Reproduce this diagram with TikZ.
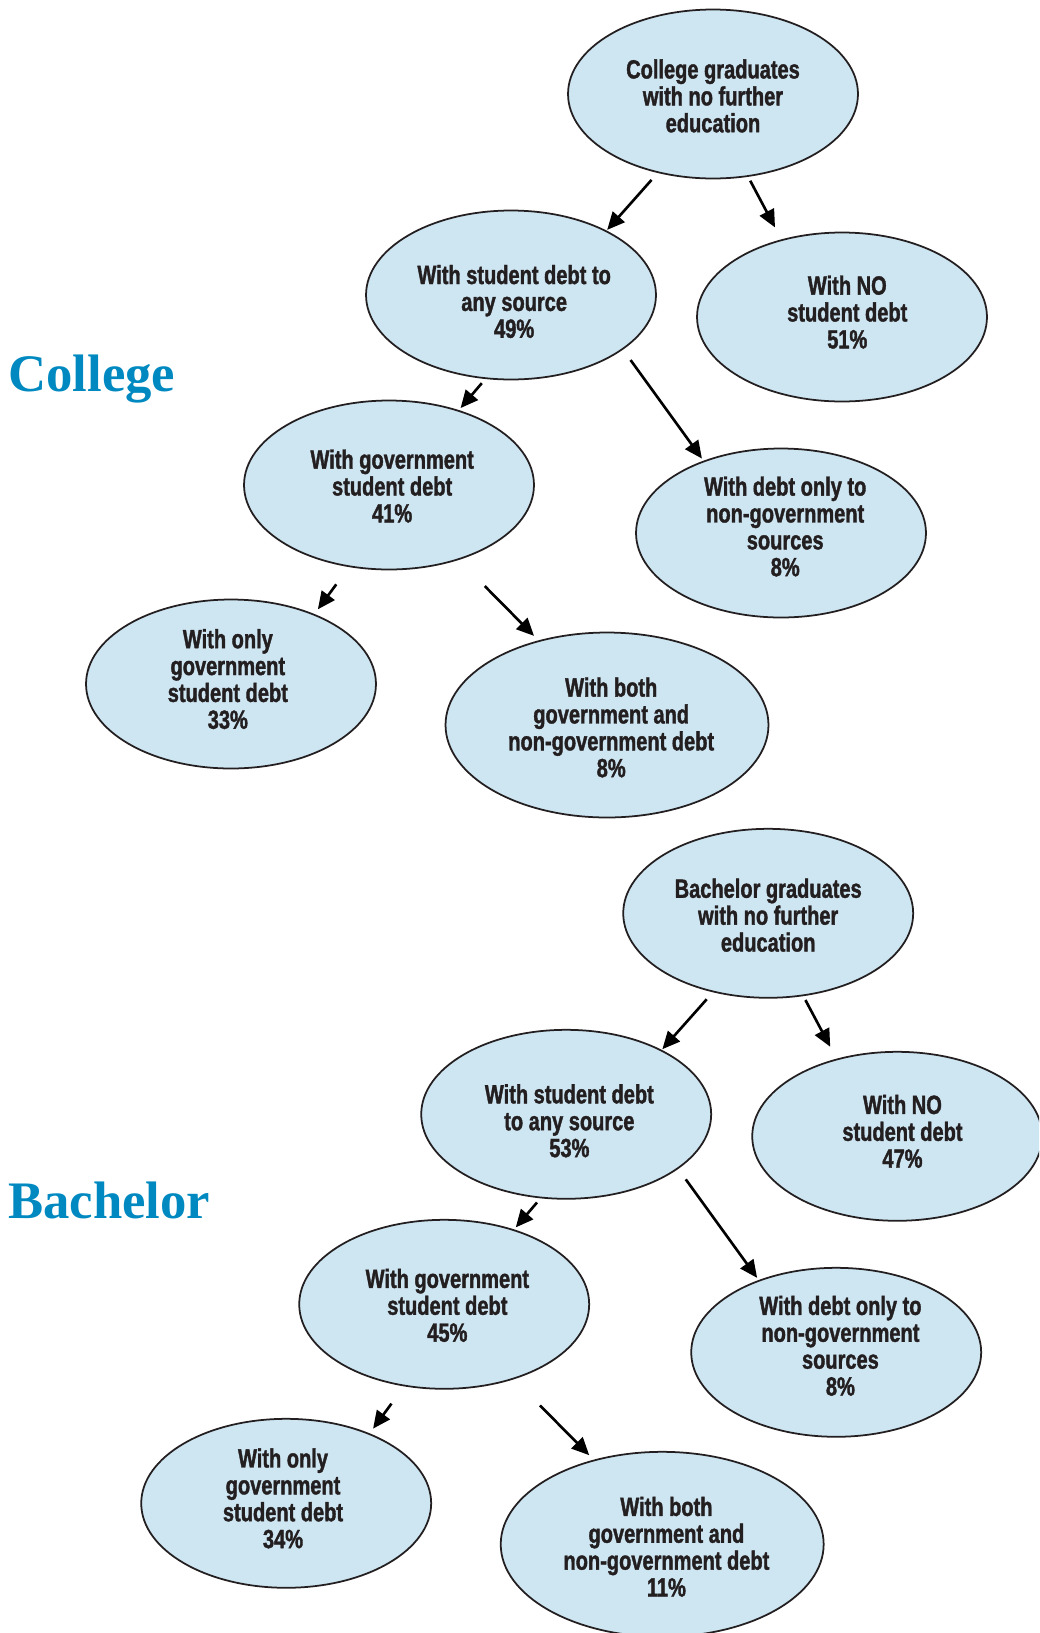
\documentclass[tikz,border=0pt]{standalone}
\usepackage{fontspec}
\setmainfont{Liberation Sans}[FakeStretch=0.76, BoldFeatures={FakeBold=1.4}]
\newfontfamily\headfont{Liberation Serif}
\usetikzlibrary{shapes.geometric,arrows.meta}
\definecolor{bubblefill}{RGB}{206,229,242}
\definecolor{ink}{RGB}{35,31,32}
\definecolor{headblue}{RGB}{0,137,192}

\begin{document}
\begin{tikzpicture}[x=0.02cm,y=-0.02cm,
  bubble/.style={ellipse, draw=ink, line width=1pt, fill=bubblefill,
    minimum width=5.8cm, minimum height=3.38cm, inner sep=0pt},
  widebubble/.style={bubble, minimum width=6.46cm, minimum height=3.7cm},
  label text/.style={inner sep=0pt, align=center, text=ink,
    font=\fontsize{15}{15.3}\selectfont\bfseries},
  arr/.style={line width=1.5pt, draw=black, -{Triangle[length=10pt,width=9pt]}},
  heading/.style={anchor=base west, inner sep=0pt, text=headblue,
    font=\headfont\fontsize{30}{30}\selectfont\bfseries}]

\useasboundingbox (0,0) rectangle (1039,1633);
\clip (0,0) rectangle (1039,1633);

% ---------- College tree ----------
\node[heading] (c-title) at (8,391) {College};
\node[bubble] (c-top) at (713,94) {};
\node[bubble] (c-any) at (511,295) {};
\node[bubble] (c-none) at (842,317) {};
\node[bubble] (c-gov) at (389,485) {};
\node[bubble] (c-nongov) at (781,533) {};
\node[bubble] (c-onlygov) at (231,684) {};
\node[widebubble] (c-both) at (607,725) {};

\node[label text] (c-top-t) at ([yshift=-1.1pt]c-top.center) {College graduates\\with no further\\education};
\node[label text] (c-any-t) at ([xshift=1.8pt,yshift=-3.7pt]c-any.center) {With student debt to\\any source\\49\%};
\node[label text] (c-none-t) at ([xshift=3pt,yshift=2.8pt]c-none.center) {With NO\\student debt\\51\%};
\node[label text] (c-gov-t) at ([xshift=1.8pt,yshift=-0.6pt]c-gov.center) {With government\\student debt\\41\%};
\node[label text] (c-nongov-t) at ([xshift=2.4pt,yshift=3.7pt]c-nongov.center) {With debt only to\\non-government\\sources\\8\%};
\node[label text] (c-onlygov-t) at ([xshift=-1.8pt,yshift=2.8pt]c-onlygov.center) {With only\\government\\student debt\\33\%};
\node[label text] (c-both-t) at ([xshift=2.4pt,yshift=-1.4pt]c-both.center) {With both\\government and\\non-government debt\\8\%};

\draw[arr, shorten <=5.3pt, shorten >=0.5pt] (c-top.235.5) -- (c-any.34.4);
\draw[arr, shorten <=2.5pt, shorten >=7.7pt] (c-top.293) -- (c-none.128);
\draw[arr, shorten <=3.1pt, shorten >=1.5pt] (c-any.253.6) -- (c-gov.47.8);
\draw[arr, shorten <=7.3pt, shorten >=1.5pt] (c-any.334) -- (c-nongov.137.2);
\draw[arr, shorten <=12.2pt, shorten >=3.3pt] (c-gov.244.6) -- (c-onlygov.40.9);
\draw[arr, shorten <=21pt, shorten >=3.6pt] (c-gov.313.5) -- (c-both.129.9);

% ---------- Bachelor tree ----------
\node[heading] (b-title) at (8,1218) {Bachelor};
\begin{scope}[shift={(55.2,819.3)}]
\node[bubble] (b-top) at (713,94) {};
\node[bubble] (b-any) at (511,295) {};
\node[bubble] (b-none) at (842,317) {};
\node[bubble] (b-gov) at (389,485) {};
\node[bubble] (b-nongov) at (781,533) {};
\node[bubble] (b-onlygov) at (231,684) {};
\node[widebubble] (b-both) at (607,725) {};
\end{scope}

\node[label text] (b-top-t) at ([yshift=-1.1pt]b-top.center) {Bachelor graduates\\with no further\\education};
\node[label text] (b-any-t) at ([xshift=1.8pt,yshift=-3.7pt]b-any.center) {With student debt\\to any source\\53\%};
\node[label text] (b-none-t) at ([xshift=3pt,yshift=2.8pt]b-none.center) {With NO\\student debt\\47\%};
\node[label text] (b-gov-t) at ([xshift=1.8pt,yshift=-0.6pt]b-gov.center) {With government\\student debt\\45\%};
\node[label text] (b-nongov-t) at ([xshift=2.4pt,yshift=3.7pt]b-nongov.center) {With debt only to\\non-government\\sources\\8\%};
\node[label text] (b-onlygov-t) at ([xshift=-1.8pt,yshift=2.8pt]b-onlygov.center) {With only\\government\\student debt\\34\%};
\node[label text] (b-both-t) at ([xshift=2.4pt,yshift=-1.4pt]b-both.center) {With both\\government and\\non-government debt\\11\%};

\draw[arr, shorten <=5.3pt, shorten >=0.5pt] (b-top.235.5) -- (b-any.34.4);
\draw[arr, shorten <=2.5pt, shorten >=7.7pt] (b-top.293) -- (b-none.128);
\draw[arr, shorten <=3.1pt, shorten >=1.5pt] (b-any.253.6) -- (b-gov.47.8);
\draw[arr, shorten <=7.3pt, shorten >=1.5pt] (b-any.334) -- (b-nongov.137.2);
\draw[arr, shorten <=12.2pt, shorten >=3.3pt] (b-gov.244.6) -- (b-onlygov.40.9);
\draw[arr, shorten <=21pt, shorten >=3.6pt] (b-gov.313.5) -- (b-both.129.9);

\end{tikzpicture}
\end{document}
